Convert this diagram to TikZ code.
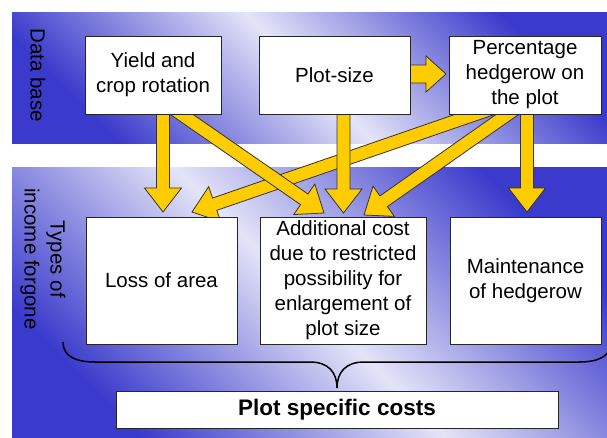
\documentclass[tikz,border=0pt]{standalone}
\usepackage{fontspec}
\setmainfont{Liberation Sans}
\usetikzlibrary{calc}
\definecolor{bandDark}{RGB}{58,58,204}
\definecolor{bandLight}{RGB}{228,228,248}
\definecolor{arrowYellow}{RGB}{255,204,0}
\tikzset{
  box/.style={draw=black!85, line width=1pt, fill=white, inner sep=0pt, align=center,
    font=\fontsize{20.5}{25}\selectfont},
  band/.style={top color=bandDark, bottom color=bandDark, middle color=bandLight, shading angle=-45},
  yarrow/.style={fill=arrowYellow, draw=black!80, line width=0.8pt, line join=miter},
  sidelabel/.style={rotate=-90, align=center, font=\fontsize{20.5}{26}\selectfont},
}
% #1 start, #2 tip, #3 back extension, #4 shaft half width, #5 head half width, #6 head length
\newcommand\barrow[6]{%
  \coordinate (ba-s) at ($(#1)!-#3!(#2)$);
  \coordinate (ba-h) at ($(#2)!#6!(#1)$);
  \filldraw[yarrow] ($(ba-s)!#4!90:(#2)$) -- ($(ba-h)!#4!-90:(ba-s)$) -- ($(ba-h)!#5!-90:(ba-s)$)
    -- (#2) -- ($(ba-h)!#5!90:(ba-s)$) -- ($(ba-h)!#4!90:(ba-s)$) -- ($(ba-s)!#4!-90:(#2)$) -- cycle;
}
\begin{document}
\begin{tikzpicture}[x=1pt,y=-1pt]
\useasboundingbox (0,0) rectangle (607,437);
\fill[white] (0,0) rectangle (607,437);
% bands
\shade[band] (12,12) rectangle (607,143);
\shade[band] (12,167) rectangle (607,437);
% side labels
\node[sidelabel] (lbldb) at (38,75) {Data base};
\node[sidelabel] (lblinc) at (43,259) {Types of\\income forgone};
% arrow end points
\coordinate (a1s) at (163,114);  \coordinate (a1t) at (163,212);
\coordinate (a2s) at (181,114);  \coordinate (a2t) at (324,213);
\coordinate (a3s) at (343.5,114); \coordinate (a3t) at (343.5,213);
\coordinate (a4s) at (410,74);   \coordinate (a4t) at (446,74);
\coordinate (a5s) at (476,114);  \coordinate (a5t) at (192,212);
\coordinate (a6s) at (508,114);  \coordinate (a6t) at (364,215);
\coordinate (a7s) at (527,114);  \coordinate (a7t) at (527,212);
% arrows
\barrow{a5s}{a5t}{20pt}{6.5pt}{18.5pt}{24pt}
\barrow{a6s}{a6t}{20pt}{6.5pt}{18.5pt}{24pt}
\barrow{a2s}{a2t}{20pt}{6.5pt}{18.5pt}{24pt}
\barrow{a1s}{a1t}{20pt}{6.5pt}{18.5pt}{24pt}
\barrow{a3s}{a3t}{20pt}{6.5pt}{18.5pt}{24pt}
\barrow{a7s}{a7t}{20pt}{6.5pt}{18.5pt}{24pt}
\barrow{a4s}{a4t}{10pt}{9pt}{18pt}{20pt}
% top boxes
\node[box, minimum width=136pt, minimum height=78pt] (yield) at (153,75) {Yield and\\crop rotation};
\node[box, minimum width=151pt, minimum height=78pt] (plotsize) at (334.5,75) {Plot-size};
\node[box, minimum width=152pt, minimum height=78pt] (perc) at (525,75) {Percentage\\hedgerow on\\the plot};
% bottom boxes
\node[box, minimum width=151pt, minimum height=127pt] (loss) at (161.5,280.5) {Loss of area};
\node[box, minimum width=166pt, minimum height=127pt] (add) at (343,280.5) {Additional cost\\due to restricted\\possibility for\\enlargement of\\plot size};
\node[box, minimum width=151pt, minimum height=127pt] (maint) at (525.5,280.5) {Maintenance\\of hedgerow};
\node[box, minimum width=442pt, minimum height=37pt, font=\fontsize{22.5}{27}\selectfont\bfseries] (plot) at (337,409.5) {Plot specific costs};
% brace
\coordinate (brL) at (63,342);
\coordinate (brT) at (337,388);
\coordinate (brR) at (611,342);
\draw[line width=1.5pt, black] (brL) .. controls (63,356) and (75,362) .. (95,362) -- (310,362)
  .. controls (328,362) and (337,372) .. (brT) .. controls (337,372) and (346,362) .. (364,362)
  -- (579,362) .. controls (599,362) and (611,356) .. (brR);
\end{tikzpicture}
\end{document}
